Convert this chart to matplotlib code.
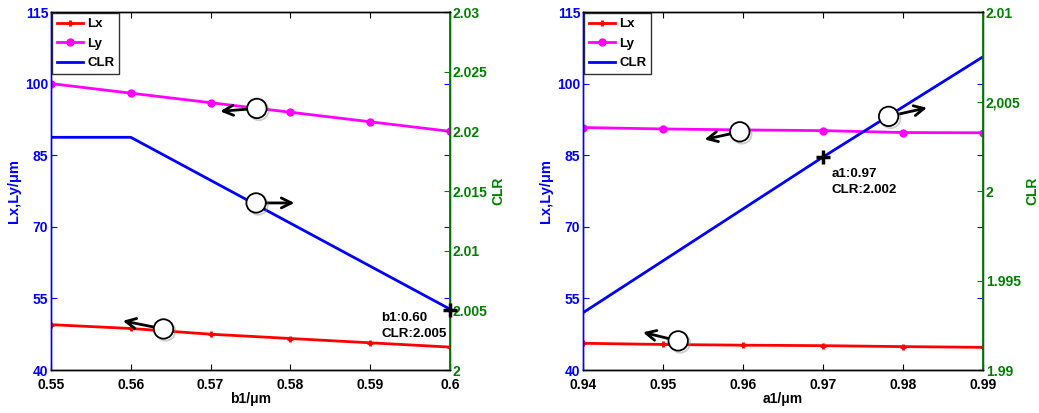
import matplotlib
matplotlib.use("Agg")
import matplotlib.pyplot as plt
import matplotlib.patheffects as pe

plt.rcParams["font.family"] = ["Liberation Sans", "DejaVu Sans"]
plt.rcParams["font.weight"] = "bold"
plt.rcParams["axes.labelweight"] = "bold"

# left panel: sweep of b1
b1 = [0.55, 0.56, 0.57, 0.58, 0.59, 0.60]
lx_b = [49.5, 48.7, 47.5, 46.6, 45.7, 44.8]
ly_b = [100, 98, 96, 94, 92, 90]
clr_b = [2.0195, 2.0195, 2.0159, 2.0123, 2.0087, 2.0051]

# right panel: sweep of a1
a1 = [0.94, 0.95, 0.96, 0.97, 0.98, 0.99]
lx_a = [45.6, 45.35, 45.2, 45.1, 44.9, 44.75]
ly_a = [90.8, 90.5, 90.3, 90.15, 89.75, 89.7]
clr_a = [1.9932, 1.9961, 1.9990, 2.0019, 2.0047, 2.0075]

left_ticks = [40, 55, 70, 85, 100, 115]
clr_ticks_b = [2.0, 2.005, 2.01, 2.015, 2.02, 2.025, 2.03]
clr_labels_b = ["2", "2.005", "2.01", "2.015", "2.02", "2.025", "2.03"]
clr_ticks_a = [1.99, 1.995, 2.0, 2.005, 2.01]
clr_labels_a = ["1.99", "1.995", "2", "2,005", "2.01"]

# arrow callouts: (circle x, circle y, arrow tip x, arrow tip y, on CLR axis?)
callouts_b = [(0.5758, 94.8, 0.5712, 94.2, False),
              (0.5757, 2.0140, 0.5805, 2.0140, True),
              (0.5641, 48.6, 0.5590, 50.3, False)]
callouts_a = [(0.9596, 89.9, 0.9552, 88.3, False),
              (0.9782, 2.00417, 0.9830, 2.00465, True),
              (0.9519, 46.1, 0.9475, 47.9, False)]

# data cursor readouts
cursor_b = (0.60, 2.005, "b1:0.60\nCLR:2.005", 0.5914, 2.0049)
cursor_a = (0.97, 2.0019, "a1:0.97\nCLR:2.002", 0.9711, 2.0013)

BLUE = "#0000ff"
GREEN = "#008000"
FS = 10


def panel(ax, x, lx, ly, clr, xlabel, clr_ticks, clr_labels, callouts, cursor):
    ax2 = ax.twinx()
    l1, = ax.plot(x, lx, color="red", lw=2, marker="+", ms=5, mew=2, label="Lx")
    l2, = ax.plot(x, ly, color="magenta", lw=2, marker="o", ms=5, label="Ly")
    l3, = ax2.plot(x, clr, color=BLUE, lw=2, label="CLR")

    ax.set_xlim(x[0], x[-1])
    ax.set_ylim(40, 115)
    ax.set_xticks(x)
    ax.set_xticklabels(["%g" % v for v in x])
    ax.set_yticks(left_ticks)
    ax2.set_ylim(clr_ticks[0], clr_ticks[-1])
    ax2.set_yticks(clr_ticks)
    ax2.set_yticklabels(clr_labels)

    ax.tick_params(axis="x", direction="in", top=True, length=4, labelsize=FS, pad=5.5)
    ax.tick_params(axis="y", direction="in", right=True, length=4, colors=BLUE,
                   labelsize=FS, pad=2)
    ax2.tick_params(axis="y", direction="in", length=4, colors=GREEN, labelsize=FS, pad=2)

    ax.spines["left"].set_color(BLUE)
    ax2.spines["left"].set_color(BLUE)
    ax2.spines["right"].set_color(GREEN)
    for s in ax.spines.values():
        s.set_linewidth(1.0)
    for s in ax2.spines.values():
        s.set_linewidth(1.0)
    ax2.spines["right"].set_linewidth(1.3)

    ax.set_xlabel(xlabel, fontsize=10, labelpad=0)
    ax.set_ylabel("Lx,Ly/\u03bcm", color=BLUE, fontsize=10.5, labelpad=3)
    ax2.set_ylabel("CLR", color=GREEN, fontsize=10, labelpad=3)

    leg = ax2.legend(handles=[l1, l2, l3], loc="upper left", fontsize=9.5,
                     borderaxespad=0.1, frameon=True, fancybox=False,
                     handlelength=2.0, handletextpad=0.3, labelspacing=0.55,
                     borderpad=0.35)
    leg.get_frame().set_edgecolor("black")
    leg.get_frame().set_linewidth(1.0)

    shadow = [pe.SimpleLineShadow(offset=(1.5, -1.5), shadow_color="gray", alpha=0.4),
              pe.Normal()]
    for cx, cy, tx, ty, on_clr in callouts:
        target = ax2 if on_clr else ax
        target.annotate("", xy=(tx, ty), xytext=(cx, cy),
                        arrowprops=dict(arrowstyle="->", color="black", lw=2,
                                        mutation_scale=18, shrinkA=0, shrinkB=0),
                        zorder=5)
        target.plot([cx], [cy], marker="o", ms=14, mfc="white", mec="black",
                    mew=1.3, zorder=6, path_effects=shadow, clip_on=False)

    px, py, txt, tx, ty = cursor
    ax2.plot([px], [py], marker="+", ms=10, mew=2.5, color="black", zorder=7,
             clip_on=False)
    ax2.text(tx, ty, txt, fontsize=9.6, color="black", ha="left", va="top",
             linespacing=1.45, zorder=7)


fig = plt.figure(figsize=(10.39, 4.13), dpi=100)
ax_l = fig.add_axes([0.0491, 0.1041, 0.3840, 0.8668])
ax_r = fig.add_axes([0.5611, 0.1041, 0.3850, 0.8668])

panel(ax_l, b1, lx_b, ly_b, clr_b, "b1/\u03bcm", clr_ticks_b, clr_labels_b,
      callouts_b, cursor_b)
panel(ax_r, a1, lx_a, ly_a, clr_a, "a1/\u03bcm", clr_ticks_a, clr_labels_a,
      callouts_a, cursor_a)

fig.savefig("out.png", dpi=100)
